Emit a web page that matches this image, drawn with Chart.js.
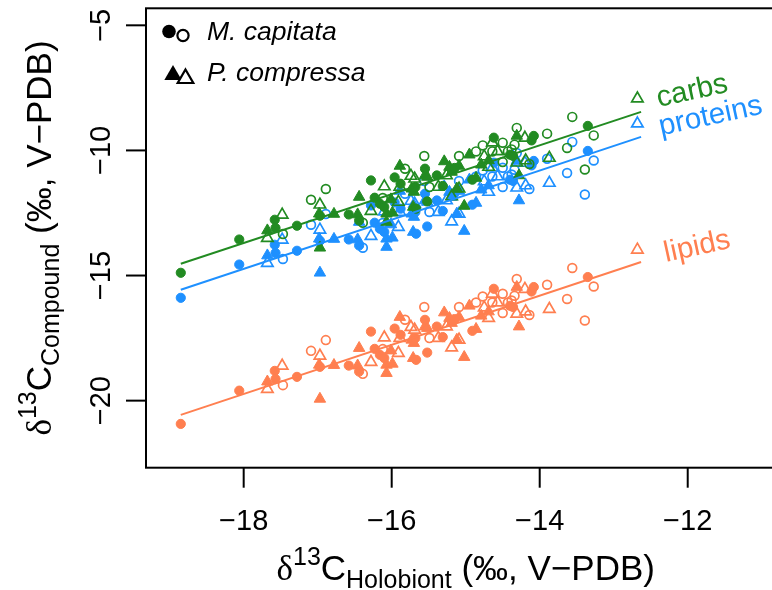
<!DOCTYPE html>
<html><head><meta charset="utf-8">
<script src="https://cdn.jsdelivr.net/npm/chart.js@4"></script>
<style>
html,body{margin:0;padding:0;overflow:hidden;background:#fff;width:772px;height:590px}
#wrap{position:absolute;left:0;top:0;width:800px;height:590px}
</style>
</head><body><div id="wrap"><canvas id="c" width="800" height="590"></canvas></div>
<script>
// ---- data (delta13C, per mil V-PDB) ----
const xTicks = [-18, -16, -14, -12];
const yTicks = [-20, -15, -10, -5];

// M. capitata, filled circles
const mcFilledX = [-18.85,-18.06,-17.58,-17.57,-17.28,-16.97,-16.58,-16.44,-16.28,-16.23,-16.16,-16.10,-15.96,-15.88,-15.68,-15.67,-15.55,-15.52,-15.39,-15.31,-15.15,-14.91,-14.62,-14.40,-14.36,-14.11,-14.08,-13.35];
const mcFilledCarbs = [-14.89,-13.56,-12.77,-13.10,-13.01,-12.61,-12.56,-12.80,-11.20,-11.89,-12.13,-12.26,-11.08,-11.33,-11.46,-12.33,-10.73,-12.04,-11.00,-11.42,-10.70,-11.17,-9.49,-10.17,-10.22,-9.60,-9.42,-9.02];
const mcFilledProteins = [-15.89,-14.56,-13.77,-14.10,-14.01,-13.61,-13.56,-13.80,-12.20,-12.89,-13.13,-13.26,-12.08,-12.33,-12.46,-13.33,-11.73,-13.04,-12.00,-12.42,-11.70,-12.17,-10.49,-11.17,-11.22,-10.60,-10.42,-10.02];
const mcFilledLipids = [-20.93,-19.60,-18.81,-19.14,-19.05,-18.65,-18.60,-18.84,-17.24,-17.93,-18.17,-18.30,-17.12,-17.37,-17.50,-18.37,-16.77,-18.08,-17.04,-17.46,-16.74,-17.21,-15.53,-16.21,-16.26,-15.64,-15.46,-15.06];

// M. capitata, open circles
const mcOpenX = [-17.47,-17.09,-16.89,-16.39,-16.12,-15.82,-15.56,-15.49,-15.09,-14.86,-14.77,-14.64,-14.50,-14.50,-14.43,-14.38,-14.34,-14.31,-14.14,-13.90,-13.63,-13.56,-13.39,-13.27];
const mcOpenCarbs = [-13.34,-11.97,-11.54,-12.89,-11.90,-10.73,-10.22,-11.46,-10.22,-10.04,-9.80,-10.04,-9.69,-10.46,-10.04,-9.96,-9.77,-9.10,-10.54,-9.33,-9.90,-8.66,-10.76,-9.40];
const mcOpenProteins = [-14.34,-12.97,-12.54,-13.89,-12.90,-11.73,-11.22,-12.46,-11.22,-11.04,-10.80,-11.04,-10.69,-11.46,-11.04,-10.96,-10.77,-10.10,-11.54,-10.33,-10.90,-9.66,-11.76,-10.40];
const mcOpenLipids = [-19.38,-18.01,-17.58,-18.93,-17.94,-16.77,-16.26,-17.50,-16.26,-16.08,-15.84,-16.08,-15.73,-16.50,-16.08,-16.00,-15.81,-15.14,-16.58,-15.37,-15.94,-14.70,-16.80,-15.44];

// P. compressa, filled triangles
const pcFilledX = [-17.68,-16.98,-16.78,-16.97,-16.44,-16.46,-16.07,-16.07,-15.99,-16.01,-15.89,-15.73,-15.71,-15.70,-15.55,-15.52,-15.29,-15.22,-15.19,-15.12,-15.09,-15.02,-14.95,-14.86,-14.79,-14.69,-14.31,-14.28];
const pcFilledCarbs = [-13.20,-12.53,-12.54,-13.89,-11.86,-12.56,-12.53,-12.86,-12.49,-11.96,-10.62,-11.53,-12.26,-11.66,-11.00,-11.06,-10.44,-10.66,-10.86,-11.53,-10.62,-12.22,-10.17,-11.10,-10.57,-10.40,-9.42,-11.00];
const pcFilledProteins = [-14.20,-13.53,-13.54,-14.89,-12.86,-13.56,-13.53,-13.86,-13.49,-12.96,-11.62,-12.53,-13.26,-12.66,-12.00,-12.06,-11.44,-11.66,-11.86,-12.53,-11.62,-13.22,-11.17,-12.10,-11.57,-11.40,-10.42,-12.00];
const pcFilledLipids = [-19.24,-18.57,-18.58,-19.93,-17.90,-18.60,-18.57,-18.90,-18.53,-18.00,-16.66,-17.57,-18.30,-17.70,-17.04,-17.10,-16.48,-16.70,-16.90,-17.57,-16.66,-18.26,-16.21,-17.14,-16.61,-16.44,-15.46,-17.04];

// P. compressa, open triangles
const pcOpenX = [-17.68,-17.48,-16.97,-16.28,-16.10,-15.91,-15.89,-15.74,-15.69,-15.37,-15.26,-15.19,-15.09,-14.75,-14.69,-14.64,-14.57,-14.31,-14.20,-14.19,-13.87,-12.68];
const pcOpenCarbs = [-13.50,-12.57,-12.17,-12.42,-11.44,-12.06,-11.46,-11.02,-11.13,-11.46,-11.00,-11.84,-11.53,-10.24,-10.66,-9.69,-10.04,-10.49,-9.50,-10.40,-10.30,-7.93];
const pcOpenProteins = [-14.50,-13.57,-13.17,-13.42,-12.44,-13.06,-12.46,-12.02,-12.13,-12.46,-12.00,-12.84,-12.53,-11.24,-11.66,-10.69,-11.04,-11.49,-10.50,-11.40,-11.30,-8.93];
const pcOpenLipids = [-19.54,-18.61,-18.21,-18.46,-17.48,-18.10,-17.50,-17.06,-17.17,-17.50,-17.04,-17.88,-17.57,-16.28,-16.70,-15.73,-16.08,-16.53,-15.54,-16.44,-16.34,-13.97];

// fitted regression lines (end points)
const lineX = [-18.85, -12.63];
const carbsLine = [-14.53, -8.46];
const proteinsLine = [-15.57, -9.46];
const lipidsLine = [-20.57, -14.46];

const compounds = ['carbs', 'proteins', 'lipids'];

// ---- styling ----
const COLORS = { carbs: '#228B22', proteins: '#1E90FF', lipids: '#FF7F50' };
const FONT = '"Liberation Sans", Arial, Helvetica, sans-serif';

function pts(xa, ya) { return xa.map((x, i) => ({ x: x, y: ya[i] })); }

const groups = [
  { x: mcOpenX, y: { carbs: mcOpenCarbs, proteins: mcOpenProteins, lipids: mcOpenLipids }, shape: 'circle', filled: false },
  { x: pcOpenX, y: { carbs: pcOpenCarbs, proteins: pcOpenProteins, lipids: pcOpenLipids }, shape: 'triangle', filled: false },
  { x: mcFilledX, y: { carbs: mcFilledCarbs, proteins: mcFilledProteins, lipids: mcFilledLipids }, shape: 'circle', filled: true },
  { x: pcFilledX, y: { carbs: pcFilledCarbs, proteins: pcFilledProteins, lipids: pcFilledLipids }, shape: 'triangle', filled: true }
];
const lines = { carbs: carbsLine, proteins: proteinsLine, lipids: lipidsLine };

const datasets = [];
compounds.forEach(c => {
  datasets.push({
    type: 'line', data: pts(lineX, lines[c]), showLine: true,
    borderColor: COLORS[c], borderWidth: 2, pointRadius: 0, fill: false
  });
});
compounds.forEach(c => {
  groups.forEach(g => {
    const r = g.shape === 'circle' ? (g.filled ? 4.6 : 4.4) : 6.6;
    datasets.push({
      data: pts(g.x, g.y[c]),
      pointStyle: g.shape,
      pointRadius: r,
      pointHoverRadius: r,
      backgroundColor: g.filled ? COLORS[c] : 'rgba(0,0,0,0)',
      borderColor: COLORS[c],
      borderWidth: g.filled ? 1 : 1.7,
      showLine: false
    });
  });
});

function drawMath(ctx, parts, cx, cy, rot) {
  ctx.save();
  ctx.translate(cx, cy);
  ctx.rotate(rot);
  let w = 0;
  parts.forEach(p => { ctx.font = p.font; p.w = ctx.measureText(p.t).width; w += p.w; });
  let x = -w / 2;
  ctx.textAlign = 'left';
  ctx.textBaseline = 'alphabetic';
  parts.forEach(p => { ctx.font = p.font; ctx.fillText(p.t, x, p.dy); x += p.w; });
  ctx.restore();
}
function titleParts(sub, F) {
  const s = Math.round(F * 0.7);
  return [
    { t: 'δ', font: F + 'px "Liberation Serif", "DejaVu Serif", serif', dy: 0 },
    { t: '13', font: s + 'px ' + FONT, dy: -F * 0.42 },
    { t: 'C', font: F + 'px ' + FONT, dy: 0 },
    { t: sub, font: s + 'px ' + FONT, dy: F * 0.22 },
    { t: ' (‰, V−PDB)', font: F + 'px ' + FONT, dy: 0 }
  ];
}
function fmt(v) { return v < 0 ? '−' + Math.abs(v) : String(v); }

const decor = {
  id: 'decor',
  afterDraw(chart) {
    const ctx = chart.ctx, ca = chart.chartArea;
    const xs = chart.scales.x, ys = chart.scales.y;
    ctx.save();
    ctx.strokeStyle = '#000';
    ctx.fillStyle = '#000';
    ctx.lineWidth = 2;
    ctx.strokeRect(ca.left, ca.top, ca.right - ca.left, ca.bottom - ca.top);
    const TICK = 20;
    ctx.font = '29px ' + FONT;
    ctx.textAlign = 'center';
    ctx.textBaseline = 'alphabetic';
    xTicks.forEach(v => {
      const px = xs.getPixelForValue(v);
      ctx.beginPath(); ctx.moveTo(px, ca.bottom); ctx.lineTo(px, ca.bottom + TICK); ctx.stroke();
      ctx.fillText(fmt(v), px, ca.bottom + 62);
    });
    yTicks.forEach(v => {
      const py = ys.getPixelForValue(v);
      ctx.beginPath(); ctx.moveTo(ca.left, py); ctx.lineTo(ca.left - TICK, py); ctx.stroke();
      ctx.save(); ctx.translate(ca.left - 36, py); ctx.rotate(-Math.PI / 2);
      ctx.fillText(fmt(v), 0, 0);
      ctx.restore();
    });
    // axis titles
    drawMath(ctx, titleParts('Holobiont', 35), (ca.left + ca.right) / 2, 580, 0);
    drawMath(ctx, titleParts('Compound', 35), 51, (ca.top + ca.bottom) / 2, -Math.PI / 2);

    // compound labels next to line ends
    const off = { carbs: [17.6, -5], proteins: [20, -1.3], lipids: [25, 0] };
    ctx.font = '29.5px ' + FONT;
    ctx.textAlign = 'left';
    compounds.forEach(c => {
      const px = xs.getPixelForValue(lineX[1]) + off[c][0];
      const py = ys.getPixelForValue(lines[c][1]) + off[c][1];
      ctx.save(); ctx.translate(px, py); ctx.rotate(-12.3 * Math.PI / 180);
      ctx.fillStyle = COLORS[c];
      ctx.fillText(c, 0, 0);
      ctx.restore();
    });

    // legend (species)
    ctx.fillStyle = '#000'; ctx.strokeStyle = '#000';
    ctx.beginPath(); ctx.arc(169, 31.5, 6.8, 0, Math.PI * 2); ctx.fill();
    ctx.lineWidth = 2.2;
    ctx.fillStyle = '#fff';
    ctx.beginPath(); ctx.arc(183, 35.5, 5.6, 0, Math.PI * 2); ctx.fill(); ctx.stroke();
    ctx.fillStyle = '#000';
    function tri(x, y, r) {
      ctx.beginPath();
      for (let k = 0; k < 3; k++) {
        const a = k * 2 * Math.PI / 3;
        const X = x + Math.sin(a) * r, Y = y - Math.cos(a) * r;
        if (k === 0) ctx.moveTo(X, Y); else ctx.lineTo(X, Y);
      }
      ctx.closePath();
    }
    tri(173, 75, 10); ctx.fill();
    tri(185.5, 78.5, 9); ctx.fillStyle = '#fff'; ctx.fill(); ctx.stroke();
    ctx.fillStyle = '#000';
    ctx.font = 'italic 26.5px ' + FONT;
    ctx.textAlign = 'left';
    ctx.fillText('M. capitata', 207, 40);
    ctx.fillText('P. compressa', 207, 81);
    ctx.restore();
  }
};

new Chart(document.getElementById('c'), {
  type: 'scatter',
  data: { datasets: datasets },
  options: {
    responsive: false,
    animation: false,
    devicePixelRatio: 1,
    layout: { padding: { left: 146, right: 14.6, top: 8, bottom: 122.3 } },
    scales: {
      x: { type: 'linear', display: false, min: -19.32, max: -10.68 },
      y: { type: 'linear', display: false, min: -22.68, max: -4.32 }
    },
    plugins: { legend: { display: false }, tooltip: { enabled: false } },
    events: []
  },
  plugins: [decor]
});
</script></body></html>
